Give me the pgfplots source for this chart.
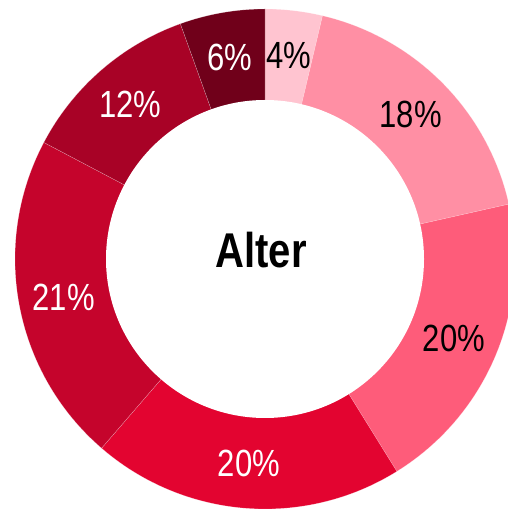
\documentclass[border=0pt]{standalone}
\usepackage{pgfplots}
\pgfplotsset{compat=1.18}
\usepackage{fontspec}
\setmainfont{Liberation Sans}[FakeStretch=0.82]
\definecolor{c1}{RGB}{255,196,208}
\definecolor{c2}{RGB}{255,143,164}
\definecolor{c3}{RGB}{254,92,122}
\definecolor{c4}{RGB}{227,4,48}
\definecolor{c5}{RGB}{197,4,44}
\definecolor{c6}{RGB}{168,2,38}
\definecolor{c7}{RGB}{112,0,26}
\begin{document}
\begin{tikzpicture}
\def\segs{3.7/4/c1/black,17.8/18/c2/black,19.7/20/c3/black,20.2/20/c4/white,21.4/21/c5/white,11.8/12/c6/white,5.5/6/c7/white}
\xdef\cum{0}
\foreach \val/\lab/\col/\tcol [count=\i] in \segs {
  \pgfmathsetmacro\angA{90-\cum/100.1*360}
  \pgfmathsetmacro\newcum{\cum+\val}
  \pgfmathsetmacro\angB{90-\newcum/100.1*360}
  \pgfmathsetmacro\angM{(\angA+\angB)/2}
  \expandafter\xdef\csname sa\i\endcsname{\angA}
  \expandafter\xdef\csname sb\i\endcsname{\angB}
  \expandafter\xdef\csname sm\i\endcsname{\angM}
  \expandafter\xdef\csname sl\i\endcsname{\lab}
  \expandafter\xdef\csname sc\i\endcsname{\col}
  \expandafter\xdef\csname st\i\endcsname{\tcol}
  \xdef\cum{\newcum}
}
\useasboundingbox (0,0) rectangle (508bp,509bp);
\begin{axis}[at={(0,0)}, anchor=south west, width=508bp, height=509bp,
  scale only axis, xmin=0, xmax=508, ymin=0, ymax=509, hide axis, clip=true]
\pgfplotsinvokeforeach{1,...,7}{
  \edef\tmp{\noexpand\fill[\csname sc#1\endcsname, draw=white, draw opacity=0.5, line width=0.25bp]
    (axis cs:265,250) -- ([shift={(\csname sa#1\endcsname:250bp)}]axis cs:265,250)
    arc[start angle=\csname sa#1\endcsname, end angle=\csname sb#1\endcsname, radius=250bp] -- cycle;}
  \tmp
}
\fill[white] (axis cs:265,250) circle[radius=159bp];
\pgfplotsinvokeforeach{1,...,7}{
  \edef\tmp{\noexpand\node[text=\csname st#1\endcsname, font=\noexpand\fontsize{38}{40}\noexpand\selectfont]
    at ([shift={(\csname sm#1\endcsname:205bp)}]axis cs:265,250) {\csname sl#1\endcsname\noexpand\%};}
  \tmp
}
\node[font=\fontsize{49}{52}\selectfont\bfseries] at (axis cs:261,259) {Alter};
\end{axis}
\end{tikzpicture}
\end{document}
